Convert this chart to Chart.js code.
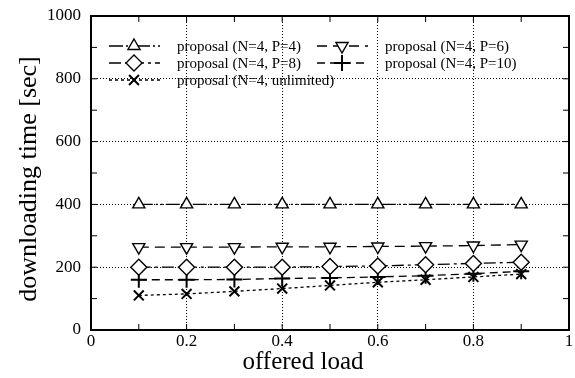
<!DOCTYPE html>
<html>
<head>
<meta charset="utf-8">
<script src="https://cdn.jsdelivr.net/npm/chart.js@4/dist/chart.umd.min.js"></script>
<style>
  html, body { margin: 0; padding: 0; background: #fff; }
  #wrap { width: 575px; height: 378px; }
</style>
</head>
<body>
<div id="wrap"><canvas id="myChart"></canvas></div>
<script>
var loads = [0.1, 0.2, 0.3, 0.4, 0.5, 0.6, 0.7, 0.8, 0.9];

var p4 = [400, 400, 400, 400, 400, 400, 400, 400, 400];
var p6 = [264, 264, 264, 265, 265, 266, 267, 269, 272];
var p8 = [200, 200, 200, 200, 202, 204, 208, 212, 216];
var p10 = [160, 160, 161, 164, 166, 169, 173, 179, 187];
var unlimited = [110, 115, 123, 132, 142, 152, 160, 169, 178];

var xTickValues = [0, 0.2, 0.4, 0.6, 0.8, 1];
var yTickValues = [0, 200, 400, 600, 800, 1000];

var xTitle = "offered load";
var yTitle = "downloading time [sec]";

var serif = "'Liberation Serif', 'DejaVu Serif', serif";

function pts(ys) {
    return loads.map(function (x, i) { return {x: x, y: ys[i]}; });
}

function series(label, ys, style, rot, dash, radius) {
    return {
        label: label,
        data: pts(ys),
        borderColor: "black",
        borderWidth: 1.3,
        borderDash: dash,
        pointStyle: style,
        rotation: rot,
        pointRadius: radius,
        pointBorderWidth: 1.4,
        pointBackgroundColor: "white",
        pointBorderColor: "black",
        fill: false
    };
}

var yData = {
    datasets: [
        series("proposal (N=4, P=4)", p4, "triangle", 0, [14, 3, 2, 3, 2, 3], 7),
        series("proposal (N=4, P=6)", p6, "triangle", 180, [10, 6], 7),
        series("proposal (N=4, P=8)", p8, "rectRot", 0, [12, 4, 3, 4], 8),
        series("proposal (N=4, P=10)", p10, "cross", 0, [8, 5], 8),
        series("proposal (N=4, unlimited)", unlimited, "crossRot", 0, [3, 3], 7)
    ]
};
yData.datasets[3].pointBorderWidth = 2;
yData.datasets[4].pointBorderWidth = 2;

// legend slots: column x of line start, row y
var legendSlots = [
    {x: 109, y: 46}, {x: 317, y: 46},
    {x: 109, y: 63}, {x: 317, y: 63},
    {x: 109, y: 80}
];

// frame, inner tick marks, axis titles and the in-plot legend
var framePlugin = {
    id: "frame",
    afterDatasetsDraw: function (chart) {
        var ctx = chart.ctx, a = chart.chartArea;
        var xs = chart.scales.x, ys = chart.scales.y;
        ctx.save();
        ctx.strokeStyle = "black";
        ctx.lineWidth = 1;
        ctx.setLineDash([]);
        ctx.beginPath();
        for (var v = 1; v < 10; v++) {
            var px = xs.getPixelForValue(v / 10);
            ctx.moveTo(px, a.bottom); ctx.lineTo(px, a.bottom - 6);
            ctx.moveTo(px, a.top); ctx.lineTo(px, a.top + 6);
        }
        for (var w = 100; w < 1000; w += 100) {
            var py = ys.getPixelForValue(w);
            ctx.moveTo(a.left, py); ctx.lineTo(a.left + 6, py);
            ctx.moveTo(a.right, py); ctx.lineTo(a.right - 6, py);
        }
        ctx.stroke();
        ctx.lineWidth = 2;
        ctx.strokeRect(a.left, a.top, a.right - a.left, a.bottom - a.top);

        ctx.fillStyle = "black";
        ctx.textAlign = "center";
        ctx.textBaseline = "middle";
        ctx.font = "25px " + serif;
        ctx.fillText(xTitle, 303, 362);
        ctx.save();
        ctx.translate(29, 179);
        ctx.rotate(-Math.PI / 2);
        ctx.font = "26px " + serif;
        ctx.fillText(yTitle, 0, 0);
        ctx.restore();

        ctx.textAlign = "left";
        ctx.font = "15px " + serif;
        chart.data.datasets.forEach(function (ds, i) {
            var s = legendSlots[i];
            ctx.lineWidth = ds.borderWidth;
            ctx.setLineDash(ds.borderDash);
            ctx.beginPath();
            ctx.moveTo(s.x, s.y); ctx.lineTo(s.x + 51, s.y);
            ctx.stroke();
            ctx.setLineDash([]);
            ctx.lineWidth = ds.pointBorderWidth;
            ctx.fillStyle = "white";
            Chart.helpers.drawPoint(ctx, {
                pointStyle: ds.pointStyle,
                rotation: ds.rotation,
                radius: ds.pointRadius,
                borderWidth: ds.pointBorderWidth
            }, s.x + 25, s.y);
            ctx.fillStyle = "black";
            ctx.fillText(ds.label, s.x + 68, s.y + 1);
        });
        ctx.restore();
    }
};

Chart.defaults.font.family = serif;
Chart.defaults.color = "black";

new Chart("myChart", {
    type: "line",
    data: yData,
    plugins: [framePlugin],
    options: {
        responsive: true,
        maintainAspectRatio: false,
        animation: false,
        layout: { autoPadding: false, padding: { top: 16, right: 6, left: 0, bottom: 0 } },
        plugins: {
            legend: { display: false },
            tooltip: { enabled: false }
        },
        scales: {
            x: {
                type: "linear",
                min: 0,
                max: 1,
                afterBuildTicks: function (s) {
                    s.ticks = xTickValues.map(function (v) { return {value: v}; });
                },
                afterFit: function (s) {
                    s.height = 48;
                    s.paddingLeft = 0;
                    s.paddingRight = 0;
                },
                ticks: {
                    padding: 1,
                    font: { size: 17 },
                    callback: function (v) { return String(Math.round(v * 10) / 10); }
                },
                grid: {
                    drawTicks: false,
                    color: "black",
                    lineWidth: 1
                },
                border: { display: false, dash: [1, 2] }
            },
            y: {
                min: 0,
                max: 1000,
                afterBuildTicks: function (s) {
                    s.ticks = yTickValues.map(function (v) { return {value: v}; });
                },
                afterFit: function (s) {
                    s.width = 91;
                    s.paddingTop = 0;
                    s.paddingBottom = 0;
                },
                ticks: {
                    padding: 10,
                    font: { size: 17 },
                    callback: function (v) { return String(v); }
                },
                grid: {
                    drawTicks: false,
                    color: "black",
                    lineWidth: 1
                },
                border: { display: false, dash: [1, 2] }
            }
        }
    }
});
</script>
</body>
</html>
